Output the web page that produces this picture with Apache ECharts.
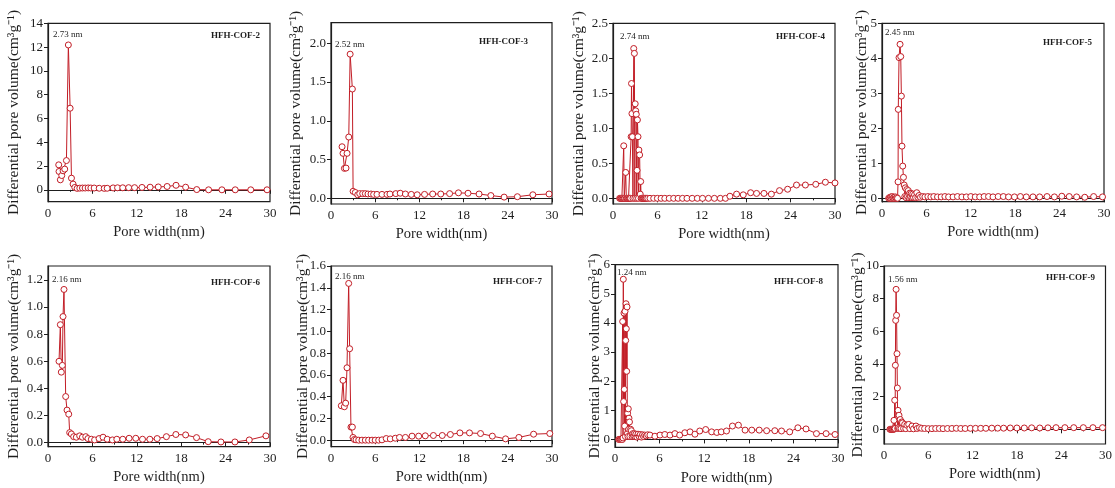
<!DOCTYPE html>
<html>
<head>
<meta charset="utf-8">
<script src="https://cdn.jsdelivr.net/npm/echarts@6/dist/echarts.min.js"></script>
<style>
  html, body { margin: 0; padding: 0; background: #fff; }
  #chart { width: 1115px; height: 488px; }
</style>
</head>
<body>
<div id="chart"></div>
<script>
// sample names and peak labels
var sampleNames = ['HFH-COF-2', 'HFH-COF-3', 'HFH-COF-4', 'HFH-COF-5', 'HFH-COF-6', 'HFH-COF-7', 'HFH-COF-8', 'HFH-COF-9'];
var peakLabels = ['2.73 nm', '2.52 nm', '2.74 nm', '2.45 nm', '2.16 nm', '2.16 nm', '1.24 nm', '1.56 nm'];

// pore width (nm) / differential pore volume for each sample
var xCOF2 = [1.45, 1.49, 1.67, 1.86, 2.04, 2.26, 2.49, 2.75, 2.99, 3.17, 3.39, 3.62, 3.94, 4.3, 4.66, 5.02, 5.43, 5.79, 6.24, 6.92, 7.6, 8.0, 8.8, 9.4, 10.1, 10.9, 11.7, 12.7, 13.8, 14.9, 16.1, 17.3, 18.6, 20.1, 21.7, 23.5, 25.3, 27.4, 29.6];
var yCOF2 = [2.1, 1.54, 0.84, 1.2, 1.6, 1.74, 2.46, 12.18, 6.86, 0.98, 0.48, 0.2, 0.12, 0.14, 0.15, 0.15, 0.16, 0.15, 0.15, 0.13, 0.12, 0.13, 0.16, 0.17, 0.17, 0.18, 0.18, 0.2, 0.22, 0.24, 0.28, 0.38, 0.22, 0.02, 0, 0, 0, 0, 0];

var xCOF3 = [1.5, 1.63, 1.82, 2.04, 2.18, 2.41, 2.6, 2.9, 3.0, 3.3, 3.63, 3.9, 4.3, 4.66, 5.02, 5.43, 5.79, 6.24, 6.92, 7.6, 8.0, 8.8, 9.4, 10.1, 10.9, 11.7, 12.7, 13.8, 14.9, 16.1, 17.3, 18.6, 20.1, 21.7, 23.5, 25.3, 27.4, 29.6];
var yCOF3 = [0.665, 0.58, 0.386, 0.39, 0.58, 0.79, 1.86, 1.41, 0.09, 0.075, 0.045, 0.06, 0.06, 0.06, 0.055, 0.055, 0.05, 0.05, 0.05, 0.05, 0.055, 0.06, 0.065, 0.055, 0.05, 0.045, 0.05, 0.055, 0.055, 0.06, 0.07, 0.065, 0.055, 0.035, 0.015, 0.02, 0.045, 0.055];

var xCOF4 = [0.9, 1.0, 1.1, 1.2, 1.3, 1.38, 1.45, 1.52, 1.6, 1.72, 1.8, 1.9, 2.0, 2.1, 2.2, 2.3, 2.38, 2.45, 2.5, 2.56, 2.62, 2.7, 2.8, 2.89, 2.95, 3.0, 3.07, 3.15, 3.2, 3.25, 3.3, 3.38, 3.44, 3.5, 3.6, 3.68, 3.74, 3.8, 3.9, 4.0, 4.1, 4.2, 4.3, 4.4, 4.5, 4.7, 5.0, 5.5, 6.0, 6.5, 7.0, 7.6, 8.2, 8.8, 9.4, 10.0, 10.7, 11.4, 12.1, 12.9, 13.7, 14.5, 15.2, 15.8, 16.7, 17.6, 18.6, 19.4, 20.4, 21.4, 22.5, 23.6, 24.8, 26.0, 27.4, 28.7, 30.0];
var yCOF4 = [0, 0, 0, 0, 0, 0, 0.75, 0, 0, 0.37, 0, 0, 0, 0, 0, 0, 0, 0.88, 1.64, 1.21, 0.88, 0, 2.14, 2.07, 0, 1.35, 1.25, 1.2, 0, 0.4, 1.12, 0.88, 0, 0.69, 0.62, 0.06, 0.24, 0, 0, 0, 0, 0, 0, 0, 0, 0, 0, 0, 0, 0, 0, 0, 0, 0, 0, 0, 0, 0, 0, 0, 0, 0, 0, 0.03, 0.06, 0.05, 0.08, 0.07, 0.07, 0.06, 0.11, 0.13, 0.19, 0.19, 0.2, 0.23, 0.22];

var xCOF5 = [0.9, 1.0, 1.1, 1.2, 1.3, 1.4, 1.5, 1.6, 1.7, 1.8, 1.9, 2.0, 2.1, 2.17, 2.2, 2.3, 2.44, 2.53, 2.62, 2.7, 2.8, 2.9, 3.0, 3.08, 3.15, 3.25, 3.35, 3.45, 3.55, 3.65, 3.75, 3.85, 3.95, 4.05, 4.15, 4.25, 4.4, 4.55, 4.7, 4.85, 5.0, 5.2, 5.5, 5.8, 6.2, 6.6, 7.0, 7.5, 8.0, 8.5, 9.0, 9.6, 10.2, 10.8, 11.4, 12.0, 12.6, 13.2, 13.8, 14.4, 15.0, 15.7, 16.4, 17.1, 17.9, 18.7, 19.5, 20.4, 21.3, 22.3, 23.3, 24.3, 25.3, 26.3, 27.4, 28.6, 29.8];
var yCOF5 = [0, 0.02, 0, 0.04, 0, 0.05, 0, 0.03, 0, 0.04, 0, 0.02, 0, 0.47, 2.54, 4.02, 4.4, 4.05, 2.92, 1.49, 0.92, 0.6, 0.38, 0.05, 0.3, 0.02, 0.25, 0.05, 0.22, 0.02, 0.15, 0.04, 0.14, 0.02, 0.12, 0.03, 0.1, 0.02, 0.16, 0.03, 0.08, 0.03, 0.05, 0.04, 0.05, 0.04, 0.05, 0.04, 0.04, 0.05, 0.04, 0.04, 0.05, 0.04, 0.04, 0.05, 0.04, 0.04, 0.05, 0.05, 0.04, 0.05, 0.05, 0.04, 0.04, 0.05, 0.04, 0.04, 0.04, 0.05, 0.04, 0.06, 0.05, 0.04, 0.03, 0.05, 0.04];

var xCOF6 = [1.49, 1.67, 1.8, 1.94, 2.03, 2.16, 2.39, 2.57, 2.8, 2.93, 3.16, 3.47, 3.83, 4.28, 4.65, 5.1, 5.4, 5.86, 6.3, 6.9, 7.44, 8.0, 8.7, 9.3, 10.1, 10.96, 11.86, 12.77, 13.76, 14.75, 16.0, 17.28, 18.6, 20.07, 21.65, 23.37, 25.26, 27.2, 29.45];
var yCOF6 = [0.6, 0.87, 0.52, 0.57, 0.93, 1.13, 0.34, 0.24, 0.21, 0.074, 0.064, 0.044, 0.04, 0.05, 0.04, 0.044, 0.03, 0.025, 0.02, 0.03, 0.04, 0.025, 0.02, 0.025, 0.025, 0.032, 0.032, 0.025, 0.025, 0.03, 0.044, 0.06, 0.057, 0.037, 0.007, 0.005, 0.005, 0.02, 0.05];

var xCOF7 = [1.4, 1.63, 1.81, 1.99, 2.17, 2.4, 2.53, 2.71, 2.9, 2.99, 3.17, 3.4, 3.76, 4.2, 4.66, 5.1, 5.57, 6.0, 6.47, 6.92, 7.5, 8.05, 8.73, 9.3, 10.1, 11.0, 11.9, 12.8, 13.9, 15.1, 16.2, 17.5, 18.8, 20.3, 21.9, 23.7, 25.5, 27.5, 29.7];
var yCOF7 = [0.316, 0.55, 0.307, 0.34, 0.665, 1.44, 0.84, 0.12, 0.12, 0.025, 0.006, 0.003, 0, 0, 0, 0, 0, 0, 0, 0.003, 0.015, 0.012, 0.018, 0.025, 0.025, 0.037, 0.037, 0.04, 0.043, 0.043, 0.052, 0.067, 0.067, 0.061, 0.037, 0.012, 0.025, 0.055, 0.061];

var xCOF8 = [0.5, 0.6, 0.7, 0.8, 0.9, 1.0, 1.03, 1.08, 1.12, 1.16, 1.21, 1.25, 1.3, 1.35, 1.4, 1.44, 1.48, 1.52, 1.57, 1.62, 1.66, 1.7, 1.75, 1.79, 1.84, 1.88, 1.95, 2.0, 2.1, 2.2, 2.3, 2.4, 2.5, 2.6, 2.7, 2.8, 2.95, 3.1, 3.25, 3.4, 3.55, 3.7, 3.85, 4.0, 4.2, 4.4, 4.7, 5.37, 6.05, 6.7, 7.4, 8.06, 8.7, 9.4, 10.1, 10.75, 11.4, 12.2, 13.0, 13.7, 14.3, 15.0, 15.8, 16.6, 17.5, 18.4, 19.4, 20.4, 21.5, 22.4, 23.5, 24.6, 25.7, 27.1, 28.4, 29.6];
var yCOF8 = [0, 0, 0, 0, 0, 0, 4.05, 0.05, 5.5, 1.3, 4.34, 1.72, 0.46, 4.4, 0.1, 3.4, 4.66, 3.8, 2.34, 4.55, 0.2, 0.9, 0.1, 1.05, 0.35, 0.73, 0.6, 0.1, 0.35, 0.3, 0.1, 0.2, 0.12, 0.2, 0.1, 0.18, 0.08, 0.18, 0.1, 0.17, 0.08, 0.16, 0.1, 0.15, 0.12, 0.16, 0.15, 0.11, 0.15, 0.17, 0.15, 0.2, 0.15, 0.23, 0.26, 0.18, 0.29, 0.34, 0.26, 0.24, 0.26, 0.29, 0.46, 0.49, 0.32, 0.32, 0.32, 0.3, 0.3, 0.29, 0.26, 0.4, 0.36, 0.2, 0.2, 0.17];

var xCOF9 = [0.8, 0.9, 1.0, 1.1, 1.2, 1.3, 1.35, 1.4, 1.45, 1.5, 1.54, 1.58, 1.64, 1.7, 1.76, 1.81, 1.86, 1.9, 1.95, 2.03, 2.1, 2.2, 2.3, 2.4, 2.5, 2.65, 2.8, 2.95, 3.1, 3.35, 3.5, 3.8, 4.0, 4.33, 4.5, 4.8, 5.1, 5.5, 6.0, 6.5, 7.0, 7.5, 8.0, 8.6, 9.2, 9.8, 10.4, 11.0, 11.7, 12.4, 13.1, 13.8, 14.6, 15.4, 16.2, 17.1, 18.0, 19.0, 20.0, 21.1, 22.2, 23.3, 24.5, 25.7, 27.0, 28.3, 29.6];
var yCOF9 = [0, 0, 0, 0, 0, 0, 0.55, 0.02, 1.78, 0.05, 3.92, 6.67, 8.57, 6.98, 4.63, 2.53, 0.05, 1.16, 0.1, 0.86, 0.05, 0.6, 0.04, 0.45, 0.39, 0.05, 0.3, 0.04, 0.25, 0.3, 0.04, 0.2, 0.03, 0.2, 0.05, 0.1, 0.06, 0.05, 0.04, 0.04, 0.05, 0.05, 0.04, 0.05, 0.05, 0.06, 0.05, 0.05, 0.06, 0.06, 0.06, 0.06, 0.07, 0.07, 0.07, 0.08, 0.08, 0.08, 0.09, 0.08, 0.09, 0.1, 0.1, 0.1, 0.1, 0.1, 0.1];

// x axis ticks (nm) and y axis ticks per panel
var xTicks = [0, 6, 12, 18, 24, 30];
var yTicks = [
	[0, 2, 4, 6, 8, 10, 12, 14],
	[0, 0.5, 1.0, 1.5, 2.0],
	[0, 0.5, 1.0, 1.5, 2.0, 2.5],
	[0, 1, 2, 3, 4, 5],
	[0, 0.2, 0.4, 0.6, 0.8, 1.0, 1.2],
	[0, 0.2, 0.4, 0.6, 0.8, 1.0, 1.2, 1.4, 1.6],
	[0, 1, 2, 3, 4, 5, 6],
	[0, 2, 4, 6, 8, 10]
];
var yDecimals = [0, 1, 1, 0, 1, 1, 0, 0];

var allX = [xCOF2, xCOF3, xCOF4, xCOF5, xCOF6, xCOF7, xCOF8, xCOF9];
var allY = [yCOF2, yCOF3, yCOF4, yCOF5, yCOF6, yCOF7, yCOF8, yCOF9];

// layout: [left, top, width, height] of each plot box, y range [min, max]
var boxes = [
	[48, 23.3, 222, 178.4], [331, 22.7, 221, 181.3], [613, 23.3, 222, 180.7], [882, 23.3, 222, 178.4],
	[48, 266, 222, 180.7], [331, 266, 221, 180.7], [615, 264.7, 223, 182.6], [884, 266, 222, 178]
];
var yRange = [[-1, 14], [-0.074, 2.266], [-0.081, 2.5], [-0.097, 5], [-0.03, 1.303], [-0.06, 1.6], [-0.27, 6], [-0.9, 10]];
var yNameGap = [26, 27, 26, 12, 26, 20, 12, 18];
// annotation anchors: peak label [left, centerY], sample name [right edge, centerY]
var peakPos = [[53, 35], [335, 45], [620, 37], [885, 33], [52, 280], [335, 277], [617, 273], [888, 280]];
var namePos = [[260, 36], [528, 42], [825, 37], [1092, 43], [260, 283], [542, 282], [823, 282], [1095, 278]];

var FONT = '"Liberation Serif", "Times New Roman", serif';
var RED = '#c21d26';
var INK = '#1e1e1e';

var grids = [], xAxes = [], yAxes = [], series = [], graphics = [];
for (var i = 0; i < 8; i++) {
	var b = boxes[i];
	grids.push({
		left: b[0], top: b[1], width: b[2], height: b[3],
		show: true, borderColor: INK, borderWidth: 1.2, backgroundColor: 'transparent'
	});
	xAxes.push({
		type: 'value', gridIndex: i, min: 0, max: 30, interval: 6,
		name: 'Pore width(nm)', nameLocation: 'middle', nameGap: 23,
		nameTextStyle: { fontFamily: FONT, fontSize: 14.5, color: INK },
		axisLine: { show: true, lineStyle: { color: INK, width: 1.2 } },
		axisTick: { show: true, length: 4, lineStyle: { color: INK, width: 1 } },
		minorTick: { show: true, splitNumber: 2, length: 2, lineStyle: { color: INK } },
		splitLine: { show: false },
		axisLabel: { fontFamily: FONT, fontSize: 13, color: INK, margin: 5 }
	});
	(function (idx) {
		yAxes.push({
			type: 'value', gridIndex: idx, min: yRange[idx][0], max: yRange[idx][1],
			name: 'Differential pore volume(cm³g⁻¹)', nameLocation: 'middle', nameGap: yNameGap[idx],
			nameMoveOverlap: false,
			nameTextStyle: { fontFamily: FONT, fontSize: 15.5, color: INK },
			axisLine: { show: true, lineStyle: { color: INK, width: 1.2 } },
			axisTick: { show: true, length: 4, customValues: yTicks[idx], lineStyle: { color: INK, width: 1 } },
			splitLine: { show: false },
			axisLabel: {
				fontFamily: FONT, fontSize: 13, color: INK, margin: 5,
				customValues: yTicks[idx],
				formatter: function (v) { return Number(v).toFixed(yDecimals[idx]); }
			}
		});
	})(i);
	var pts = allX[i].map(function (x, k) { return [x, allY[i][k]]; });
	series.push({
		type: 'line', xAxisIndex: i, yAxisIndex: i, data: pts,
		symbol: 'circle', symbolSize: 6, showSymbol: true,
		lineStyle: { color: RED, width: 1 },
		itemStyle: { color: '#fff', borderColor: RED, borderWidth: 1 },
		emphasis: { disabled: true },
		animation: false
	});
	graphics.push({
		type: 'text', left: peakPos[i][0], top: peakPos[i][1] - 5,
		style: { text: peakLabels[i], font: '9px ' + FONT, fill: INK }
	});
	graphics.push({
		type: 'text', right: 1115 - namePos[i][0], top: namePos[i][1] - 5,
		style: { text: sampleNames[i], font: 'bold 9px ' + FONT, fill: INK }
	});
}

var chart = echarts.init(document.getElementById('chart'));
chart.setOption({
	backgroundColor: '#fff',
	animation: false,
	grid: grids,
	xAxis: xAxes,
	yAxis: yAxes,
	series: series,
	graphic: graphics
});
</script>
</body>
</html>
